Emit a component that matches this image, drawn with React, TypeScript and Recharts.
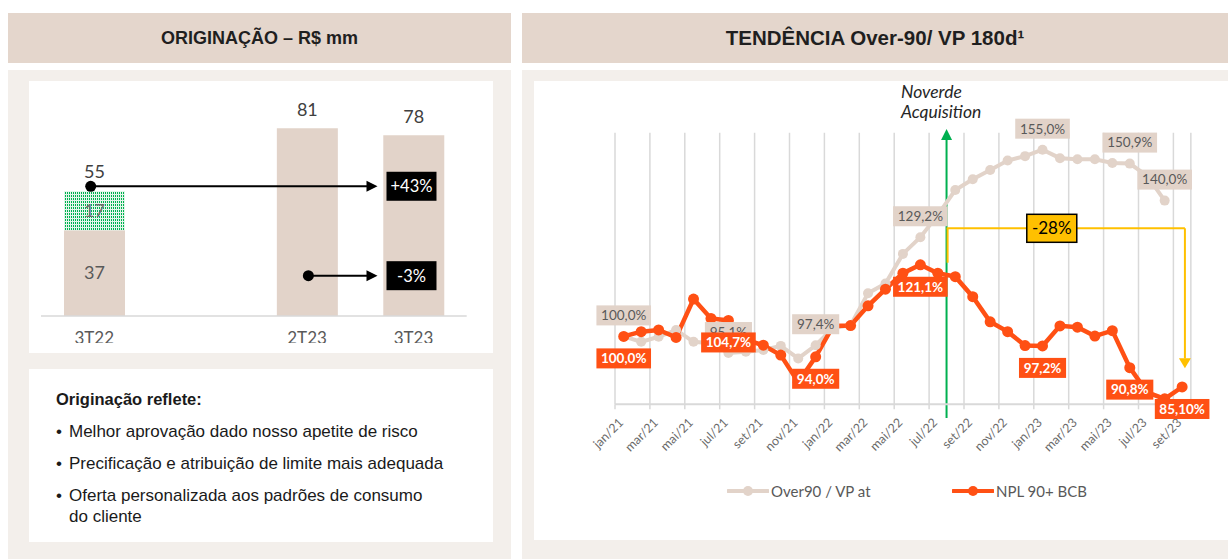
import React from 'react';
import {
  BarChart,
  Bar,
  XAxis,
  YAxis,
  LabelList,
  ReferenceLine,
  ReferenceDot,
  LineChart,
  Line,
  CartesianGrid,
} from 'recharts';

// ---- Originação (R$ mm) ----
const quarters = ['3T22', '', '2T23', '3T23'];
const baseValues = [37, null, 81, 78];
const extraValues = [17, null, null, null];
const totalValues = [55, null, 81, 78];

// ---- Tendência Over-90 / VP 180d ----
const months = [
  'jan/21', 'fev/21', 'mar/21', 'abr/21', 'mai/21', 'jun/21', 'jul/21', 'ago/21', 'set/21', 'out/21', 'nov/21', 'dez/21',
  'jan/22', 'fev/22', 'mar/22', 'abr/22', 'mai/22', 'jun/22', 'jul/22', 'ago/22', 'set/22', 'out/22', 'nov/22', 'dez/22',
  'jan/23', 'fev/23', 'mar/23', 'abr/23', 'mai/23', 'jun/23', 'jul/23', 'ago/23', 'set/23',
];
const over90 = [
  100.0, 98.4, 99.9, 101.9, 98.4, 98.0, 95.1, 95.5, 96.0, 97.2, 93.5, 97.4,
  102.5, 103.3, 112.7, 115.6, 124.3, 129.2, 135.8, 143.1, 146.3, 149.0, 151.8, 153.1,
  155.0, 152.5, 152.2, 152.2, 151.1, 150.9, 147.3, 140.0, null,
];
const npl = [
  100.0, 101.4, 101.9, 99.7, 111.0, 105.3, 104.7, 99.0, 97.4, 94.5, 86.5, 94.0,
  103.1, 103.2, 109.0, 113.9, 118.6, 121.1, 118.6, 117.6, 111.7, 104.3, 101.4, 97.3,
  97.2, 103.1, 102.7, 100.1, 101.7, 90.8, 83.5, 81.6, 85.1,
];
const monthTicks = [0, 2, 4, 6, 8, 10, 12, 14, 16, 18, 20, 22, 24, 26, 28, 30, 32];
const over90Labels: Record<number, string> = {
  0: '100,0%', 6: '95,1%', 11: '97,4%', 17: '129,2%', 24: '155,0%', 29: '150,9%', 31: '140,0%',
};
const nplLabels: Record<number, string> = {
  0: '100,0%', 6: '104,7%', 11: '94,0%', 17: '121,1%', 24: '97,2%', 29: '90,8%', 32: '85,10%',
};
const bullets = [
  'Melhor aprovação dado nosso apetite de risco',
  'Precificação e atribuição de limite mais adequada',
  'Oferta personalizada aos padrões de consumo\ndo cliente',
];
const acquisitionMonth = 19; // start of ago/22
const gapLevel = 131.84;
const gapEnd = 32.66;

const BEIGE = '#E2D3C9';
const ORANGE = '#FF5014';
const GREEN = '#00B050';
const YELLOW = '#FFC000';
const HEADER = '#E4D6CC';
const PANEL = '#F3EFEB';
const chartFont = 'Lato, "Open Sans", sans-serif';
const textFont = '"Liberation Sans", Arial, sans-serif';

const barData = quarters.map((q, i) => ({
  q,
  base: baseValues[i],
  extra: extraValues[i],
  total: totalValues[i],
}));

const lineData = months.map((m, i) => ({
  x: i + 0.5,
  month: m,
  over90: over90[i],
  npl: npl[i],
}));

// LabelList gets the quarter name as value, so look the bar up by it
function BaseLabel(props: any) {
  const { x, y, width, height, value } = props;
  const i = quarters.indexOf(value);
  if (x == null || i < 0 || baseValues[i] == null) return null;
  const cx = x + width / 2;
  if (extraValues[i] != null) {
    return (
      <text x={cx} y={y + height / 2} dy="0.35em" textAnchor="middle" fontSize={18} fill="#595959" fontFamily={chartFont}>
        {baseValues[i]}
      </text>
    );
  }
  return (
    <text x={cx} y={y - 19} dy="0.35em" textAnchor="middle" fontSize={18} fill="#404040" fontFamily={chartFont}>
      {totalValues[i]}
    </text>
  );
}

function ExtraLabel(props: any) {
  const { x, y, width, height, value } = props;
  const i = quarters.indexOf(value);
  if (x == null || i < 0 || extraValues[i] == null) return null;
  const cx = x + width / 2;
  return (
    <g>
      <text x={cx} y={y + height / 2} dy="0.35em" textAnchor="middle" fontSize={18} fill="#6f6f6f" fontFamily={chartFont}>
        {extraValues[i]}
      </text>
      <text x={cx} y={y - 19} dy="0.35em" textAnchor="middle" fontSize={18} fill="#404040" fontFamily={chartFont}>
        {totalValues[i]}
      </text>
    </g>
  );
}

function growthArrow(text: string, startShift: number) {
  return (p: any) => {
    const { x1, y1, x2 } = p;
    if (x1 == null) return <g />;
    const sx = x1 + startShift;
    const tip = x2 - 36;
    return (
      <g>
        <circle cx={sx} cy={y1} r={5.5} fill="#000" />
        <line x1={sx} y1={y1} x2={tip - 9} y2={y1} stroke="#000" strokeWidth={2} />
        <path d={`M${tip - 11},${y1 - 5.5} L${tip},${y1} L${tip - 11},${y1 + 5.5} Z`} fill="#000" />
        <rect x={x2 - 27} y={y1 - 14.5} width={50} height={29} fill="#000" />
        <text x={x2 - 2} y={y1} dy="0.36em" textAnchor="middle" fontSize={16.5} fill="#fff" fontFamily={chartFont}>
          {text}
        </text>
      </g>
    );
  };
}

function pointLabel(texts: Record<number, string>, above: boolean) {
  return (props: any) => {
    const { x, y, index } = props;
    const text = texts[index];
    if (!text || x == null || y == null) return null;
    let w = 10;
    for (const ch of text) w += ch === ',' ? 3.6 : ch === '%' ? 11 : 7.5;
    const h = 20;
    const cy = above ? y - 21 : y + 22;
    return (
      <g>
        <rect x={x - w / 2} y={cy - h / 2} width={w} height={h} fill={above ? BEIGE : ORANGE} />
        <text
          x={x}
          y={cy}
          dy="0.36em"
          textAnchor="middle"
          fontSize={13.5}
          fontWeight={above ? 400 : 700}
          fill={above ? '#595959' : '#fff'}
          fontFamily={chartFont}
        >
          {text}
        </text>
      </g>
    );
  };
}

function MonthTick(props: any) {
  const { x, y, payload } = props;
  return (
    <g transform={`translate(${x + 6},${y + 9})`}>
      <text transform="rotate(-45)" textAnchor="end" dy="0.35em" fontSize={12.5} fill="#6b6b6b" fontFamily={chartFont}>
        {months[payload.value]}
      </text>
    </g>
  );
}

const upHead = (p: any) => (
  <path d={`M${p.cx - 5.5},${p.cy + 3} L${p.cx},${p.cy - 8} L${p.cx + 5.5},${p.cy + 3} Z`} fill={GREEN} />
);
const downHead = (p: any) => (
  <path d={`M${p.cx - 6},${p.cy - 5} L${p.cx},${p.cy + 5} L${p.cx + 6},${p.cy - 5} Z`} fill={YELLOW} />
);
const gapBox = (p: any) => (
  <g>
    <rect x={p.cx - 25} y={p.cy - 14} width={50} height={28} fill={YELLOW} stroke="#000" strokeWidth={1.5} />
    <text x={p.cx} y={p.cy} dy="0.36em" textAnchor="middle" fontSize={17} fill="#000" fontFamily={chartFont}>
      -28%
    </text>
  </g>
);

function LegendItem({ color, label, left }: { color: string; label: string; left: number }) {
  return (
    <div style={{ position: 'absolute', left, top: 481, display: 'flex', alignItems: 'center', height: 20 }}>
      <svg width={42} height={12}>
        <line x1={1} y1={6} x2={41} y2={6} stroke={color} strokeWidth={4} strokeLinecap="round" />
        <circle cx={21} cy={6} r={5} fill={color} />
      </svg>
      <span style={{ fontFamily: chartFont, fontSize: 15, color: '#595959', marginLeft: 2 }}>{label}</span>
    </div>
  );
}

export default function App() {
  return (
    <div style={{ position: 'absolute', left: 0, top: 0, width: 1228, height: 559, background: '#fff', overflow: 'hidden' }}>
      <svg width={0} height={0} style={{ position: 'absolute' }}>
        <defs>
          <pattern id="greenDots" width={2} height={3} patternUnits="userSpaceOnUse">
            <rect width={2} height={3} fill="#E3F6EA" />
            <rect x={0} y={0} width={1} height={2} fill="#00B050" />
          </pattern>
        </defs>
      </svg>

      {/* headers */}
      <div
        style={{
          position: 'absolute', left: 8, top: 13, width: 503, height: 50, background: HEADER,
          display: 'flex', alignItems: 'center', justifyContent: 'center',
          fontFamily: textFont, fontWeight: 700, fontSize: 18, color: '#1f1f1f',
        }}
      >
        ORIGINAÇÃO – R$ mm
      </div>
      <div
        style={{
          position: 'absolute', left: 522, top: 13, width: 706, height: 50, background: HEADER,
          display: 'flex', alignItems: 'center', justifyContent: 'center',
          fontFamily: textFont, fontWeight: 700, fontSize: 20.5, color: '#1f1f1f',
        }}
      >
        TENDÊNCIA Over-90/ VP 180d¹
      </div>

      {/* panels */}
      <div style={{ position: 'absolute', left: 8, top: 70, width: 503, height: 489, background: PANEL }} />
      <div style={{ position: 'absolute', left: 522, top: 70, width: 706, height: 489, background: PANEL }} />

      {/* left bar chart */}
      <div style={{ position: 'absolute', left: 29, top: 81, width: 464, height: 272, background: '#fff' }} />
      <div style={{ position: 'absolute', left: 29, top: 81, width: 464, height: 262, overflow: 'hidden' }}>
        <BarChart width={464} height={272} data={barData} margin={{ top: 26.5, right: 26.3, left: 12, bottom: 7 }} barSize={61}>
          <XAxis
            dataKey="q"
            height={30}
            tickLine={false}
            tickSize={0}
            tickMargin={16}
            axisLine={{ stroke: '#D9D9D9', strokeWidth: 1.5 }}
            tick={{ fill: '#595959', fontSize: 17, fontFamily: chartFont }}
            interval={0}
          />
          <YAxis hide domain={[0, 90]} />
          <Bar dataKey="base" stackId="a" fill={BEIGE} isAnimationActive={false}>
            <LabelList dataKey="q" content={BaseLabel} />
          </Bar>
          <Bar dataKey="extra" stackId="a" fill="url(#greenDots)" isAnimationActive={false}>
            <LabelList dataKey="q" content={ExtraLabel} />
          </Bar>
          <ReferenceLine
            segment={[{ x: '3T22', y: 56 }, { x: '3T23', y: 56 }]}
            shape={growthArrow('+43%', -3.5)}
            ifOverflow="visible"
          />
          <ReferenceLine
            segment={[{ x: '2T23', y: 17.4 }, { x: '3T23', y: 17.4 }]}
            shape={growthArrow('-3%', 1.3)}
            ifOverflow="visible"
          />
        </BarChart>
      </div>

      {/* left text box */}
      <div
        style={{
          position: 'absolute', left: 29, top: 369, width: 464, height: 173, background: '#fff',
          fontFamily: textFont, color: '#1a1a1a', boxSizing: 'border-box', paddingLeft: 27, paddingTop: 20,
        }}
      >
        <div style={{ fontWeight: 700, fontSize: 16.5, lineHeight: '20px', marginBottom: 12 }}>Originação reflete:</div>
        {bullets.map((t) => (
          <div key={t} style={{ display: 'flex', fontSize: 17, lineHeight: '21px', marginBottom: 11, width: 430 }}>
            <span style={{ width: 13, flex: 'none' }}>•</span>
            <span style={{ whiteSpace: 'pre' }}>{t}</span>
          </div>
        ))}
      </div>

      {/* right line chart */}
      <div style={{ position: 'absolute', left: 534, top: 81, width: 694, height: 459, background: '#fff' }} />
      <div style={{ position: 'absolute', left: 534, top: 81 }}>
        <LineChart width={694} height={459} data={lineData} margin={{ top: 51.7, right: 37.15, left: 81, bottom: 75.7 }}>
          <CartesianGrid vertical horizontal={false} stroke="#D9D9D9" strokeWidth={1.5} />
          <XAxis
            dataKey="x"
            type="number"
            domain={[0, 33]}
            ticks={monthTicks}
            interval={0}
            height={60}
            tickSize={5}
            tickMargin={2}
            axisLine={{ stroke: '#D9D9D9', strokeWidth: 2 }}
            tickLine={{ stroke: '#D9D9D9', strokeWidth: 1.5 }}
            tick={<MonthTick />}
          />
          <YAxis hide domain={[80, 160]} />
          <ReferenceLine
            segment={[{ x: acquisitionMonth, y: 76 }, { x: acquisitionMonth, y: 157.85 }]}
            stroke={GREEN}
            strokeWidth={2}
            ifOverflow="visible"
          />
          <ReferenceDot x={acquisitionMonth} y={158.7} shape={upHead} ifOverflow="visible" />
          <ReferenceLine
            segment={[{ x: acquisitionMonth + 0.06, y: gapLevel }, { x: acquisitionMonth + 0.06, y: 121.7 }]}
            stroke={YELLOW}
            strokeWidth={2}
            ifOverflow="visible"
          />
          <ReferenceLine
            segment={[{ x: acquisitionMonth, y: gapLevel }, { x: gapEnd, y: gapLevel }]}
            stroke={YELLOW}
            strokeWidth={2}
            ifOverflow="visible"
          />
          <ReferenceLine
            segment={[{ x: gapEnd, y: gapLevel }, { x: gapEnd, y: 93.5 }]}
            stroke={YELLOW}
            strokeWidth={2}
            ifOverflow="visible"
          />
          <ReferenceDot x={gapEnd} y={92.1} shape={downHead} ifOverflow="visible" />
          <Line
            dataKey="over90"
            stroke={BEIGE}
            strokeWidth={4}
            dot={{ r: 5, fill: BEIGE, stroke: BEIGE, strokeWidth: 0 }}
            isAnimationActive={false}
            connectNulls={false}
          >
            <LabelList dataKey="over90" content={pointLabel(over90Labels, true)} />
          </Line>
          <Line
            dataKey="npl"
            stroke={ORANGE}
            strokeWidth={4.5}
            dot={{ r: 5.5, fill: ORANGE, stroke: ORANGE, strokeWidth: 0 }}
            isAnimationActive={false}
          >
            <LabelList dataKey="npl" content={pointLabel(nplLabels, false)} />
          </Line>
          <ReferenceDot x={25.03} y={gapLevel} shape={gapBox} ifOverflow="visible" />
        </LineChart>
      </div>

      <div
        style={{
          position: 'absolute', left: 901, top: 82, fontFamily: chartFont, fontStyle: 'italic',
          fontSize: 17.5, lineHeight: '20px', color: '#262626',
        }}
      >
        Noverde
        <br />
        Acquisition
      </div>

      <LegendItem color={BEIGE} label="Over90 / VP at" left={727} />
      <LegendItem color={ORANGE} label="NPL 90+ BCB" left={952} />
    </div>
  );
}
